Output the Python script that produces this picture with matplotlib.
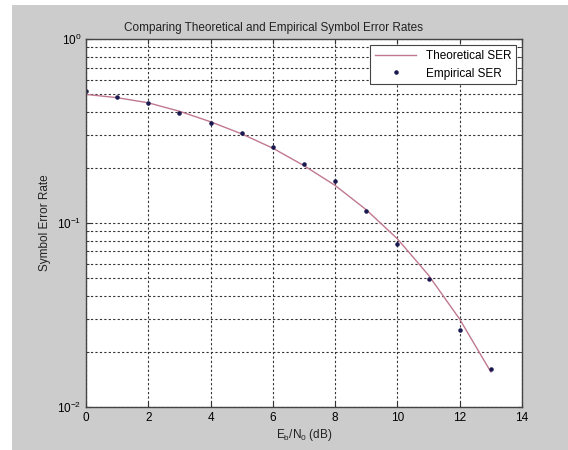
import matplotlib
matplotlib.use("Agg")
import matplotlib.pyplot as plt
from matplotlib.patches import Rectangle
from matplotlib.ticker import LogLocator, NullFormatter

ebn0_db = [0, 1, 2, 3, 4, 5, 6, 7, 8, 9, 10, 11, 12, 13]
ser_theory = [0.50, 0.48, 0.45, 0.405, 0.355, 0.305, 0.255, 0.205, 0.16, 0.118, 0.082, 0.052, 0.030, 0.0155]
ser_empirical = [0.52, 0.484, 0.449, 0.396, 0.35, 0.308, 0.259, 0.209, 0.169, 0.116, 0.077, 0.0497, 0.0262, 0.0161]

plt.rcParams['font.family'] = ['Liberation Sans', 'DejaVu Sans']
plt.rcParams['mathtext.fontset'] = 'custom'
plt.rcParams['mathtext.rm'] = 'Liberation Sans'
plt.rcParams['mathtext.it'] = 'Liberation Sans'

fig = plt.figure(figsize=(5.68, 4.5), dpi=100, facecolor='white')
fig.patches.append(Rectangle((12 / 568, 0), 1 - 12 / 568, 1 - 5 / 450,
                             transform=fig.transFigure, facecolor='#cccccc',
                             edgecolor='none', zorder=-10))
ax = fig.add_axes([0.1514, 0.0956, 0.919 - 0.1514, 0.9133 - 0.0956])
ax.set_facecolor('white')

ax.semilogy(ebn0_db, ser_theory, '-', color='#c07890', lw=1.0, label='Theoretical SER')
ax.semilogy(ebn0_db, ser_empirical, '.', color='#1a1a50', ms=4.5, label='Empirical SER')

ax.set_xlim(0, 14)
ax.set_ylim(1e-2, 1)
ax.set_xticks(range(0, 15, 2))
ax.yaxis.set_major_locator(LogLocator(base=10, numticks=5))
ax.yaxis.set_minor_locator(LogLocator(base=10, subs=range(2, 10), numticks=20))
ax.yaxis.set_minor_formatter(NullFormatter())

ax.grid(True, which='major', ls=(0, (2, 2)), color='#333333', lw=0.8)
ax.grid(True, which='minor', axis='y', ls=(0, (2, 2)), color='#333333', lw=0.8)
ax.tick_params(which='both', direction='in', top=True, right=True, labelsize=8.5, color='#333333')
ax.tick_params(which='minor', length=2)
for s in ax.spines.values():
    s.set_color('#444444')
    s.set_linewidth(1.0)

ax.set_title('Comparing Theoretical and Empirical Symbol Error Rates', fontsize=8.5, pad=6,
             color='#222222', x=0.431)
ax.set_xlabel(r'E$_\mathrm{b}$/N$_\mathrm{0}$ (dB)', fontsize=8.5, color='#222222', labelpad=2)
ax.set_ylabel('Symbol Error Rate', fontsize=8.5, color='#222222', labelpad=4)

leg = ax.legend(loc='upper right', fontsize=8.5, fancybox=False, framealpha=1,
                edgecolor='#444444', borderaxespad=0.5, handlelength=3.5)
leg.get_frame().set_linewidth(0.8)

fig.savefig('out.png', dpi=100, facecolor=fig.get_facecolor())
